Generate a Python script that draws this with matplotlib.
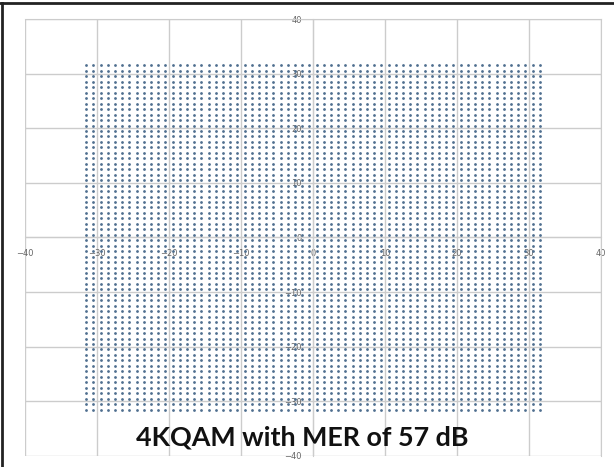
import numpy as np
import matplotlib.pyplot as plt
from matplotlib.lines import Line2D

# 4096-QAM constellation: 64 levels per axis
levels = np.arange(-31.5, 32.0, 1.0)
ticks = [-40, -30, -20, -10, 0, 10, 20, 30, 40]
title_text = "4KQAM with MER of 57 dB"

I, Q = np.meshgrid(levels, levels)

fig = plt.figure(figsize=(6.14, 4.67), dpi=100)
ax = fig.add_axes([0.0407, 0.0236, 0.938, 0.9357])

ax.scatter(I.ravel(), Q.ravel(), s=4.0, color="#4f6f8f", linewidths=0, zorder=3)

ax.set_xlim(-40, 40)
ax.set_ylim(-40, 40)
ax.set_xticks(ticks)
ax.set_yticks(ticks)
ax.grid(True, color="#cccccc", linewidth=1.0, zorder=0)

# axes through the origin, drawn like the grid
for side in ["left", "bottom"]:
    ax.spines[side].set_position("zero")
    ax.spines[side].set_color("#cccccc")
for side in ["right", "top"]:
    ax.spines[side].set_color("#cccccc")
ax.tick_params(length=0, labelsize=6, labelcolor="#666666", pad=8)

fig.text(0.492, 0.064, title_text, ha="center", va="center",
         fontsize=19.4, fontweight="bold", family=["Lato", "DejaVu Sans"],
         color="#111111")

# frame lines along the top and left edges
fig.add_artist(Line2D([0, 1], [0.993, 0.993], transform=fig.transFigure,
                      color="#222222", linewidth=2.0))
fig.add_artist(Line2D([0.004, 0.004], [0, 0.993], transform=fig.transFigure,
                      color="#222222", linewidth=2.0))

fig.savefig("out.png", dpi=100)
